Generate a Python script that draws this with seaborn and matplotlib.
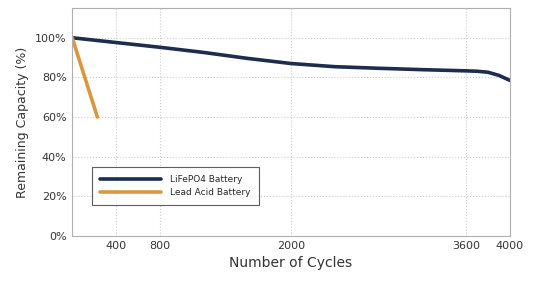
"""Battery cycle life: LiFePO4 vs lead acid remaining capacity."""

import pandas as pd
import seaborn as sns
import matplotlib.pyplot as plt
from matplotlib.ticker import PercentFormatter


LFP_CYCLES = [0, 400, 800, 1200, 1600, 2000, 2400, 2800, 3200, 3600, 3700, 3800, 3900, 4000]
LFP_CAPACITY = [100, 97.6, 95.2, 92.6, 89.6, 87.0, 85.4, 84.6, 83.9, 83.3, 83.1, 82.6, 81.0, 78.5]
LEAD_CYCLES = [0, 230]
LEAD_CAPACITY = [100, 60]

X_TICKS = [400, 800, 2000, 3600, 4000]
Y_TICKS = [0, 20, 40, 60, 80, 100]

NAVY = '#1d2d4f'
ORANGE = '#d9973f'


def main():
    df = pd.concat([
        pd.DataFrame({'cycles': LFP_CYCLES, 'capacity': LFP_CAPACITY, 'battery': 'LiFePO4 Battery'}),
        pd.DataFrame({'cycles': LEAD_CYCLES, 'capacity': LEAD_CAPACITY, 'battery': 'Lead Acid Battery'}),
    ])

    sns.set_style('white')
    fig = plt.figure(figsize = (5.35, 2.87), dpi = 100)
    ax = fig.add_axes([0.135, 0.178, 0.818, 0.794])

    sns.lineplot(
        data = df, x = 'cycles', y = 'capacity', hue = 'battery',
        palette = {'LiFePO4 Battery': NAVY, 'Lead Acid Battery': ORANGE},
        linewidth = 2.6, ax = ax, sort = False,
    )

    ax.set_xlim(0, 4000)
    ax.set_ylim(0, 115)
    ax.set_xticks(X_TICKS)
    ax.set_yticks(Y_TICKS)
    ax.yaxis.set_major_formatter(PercentFormatter(decimals = 0))
    ax.tick_params(axis = 'both', length = 0, labelsize = 8, colors = '#333333', pad = 4)
    ax.grid(True, color = '#cccccc', linestyle = ':', linewidth = 0.8)
    for spine in ax.spines.values():
        spine.set_color('#b0b0b0')
        spine.set_linewidth(0.8)

    ax.set_xlabel('Number of Cycles', fontsize = 10, color = '#333333', labelpad = 3)
    ax.set_ylabel('Remaining Capacity (%)', fontsize = 9, color = '#333333')

    leg = ax.legend(
        loc = 'lower left', bbox_to_anchor = (0.045, 0.135), fontsize = 6.5,
        handlelength = 6.8, frameon = True, fancybox = False, borderpad = 0.9,
        labelspacing = 0.4, handletextpad = 1.0, borderaxespad = 0,
    )
    leg.get_frame().set_edgecolor('#333333')
    leg.get_frame().set_linewidth(0.8)
    for line in leg.get_lines():
        line.set_linewidth(2.6)

    fig.savefig('out.png', dpi = 100)
    plt.close(fig)


if __name__ == '__main__':
    main()
